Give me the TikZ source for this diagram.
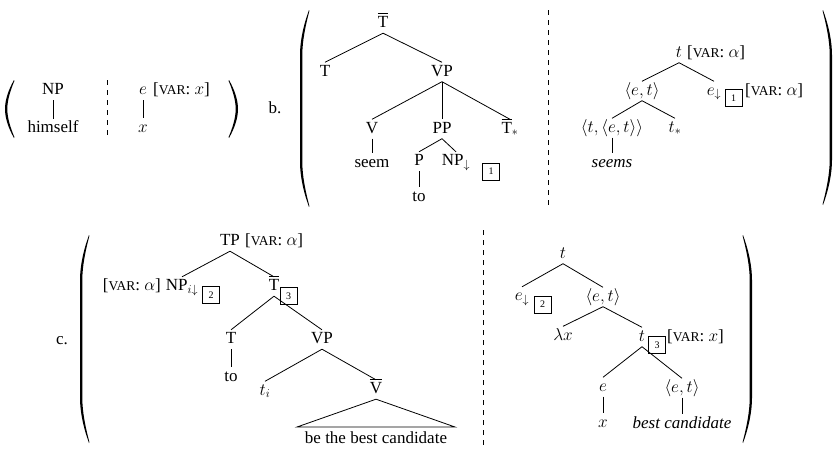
\documentclass[tikz,border=0pt]{standalone}
\usepackage{fontspec}
\setmainfont{Liberation Serif}
\newcommand{\vsc}{{\fontsize{13.5}{16}\selectfont VAR}}
\newcommand{\feat}[1]{[\vsc: #1]}
\newcommand{\ob}[1]{\leavevmode\vbox{\hrule height 0.7pt \kern 2.2pt \hbox{#1}}}
% filled parenthesis shape: #1 = height, #2 = length of curved ends
\newcommand{\myparen}[2]{%
  \fill (9,0) .. controls (3.2,0.35*#2) and (0,0.7*#2) .. (0,#2)
    -- (0,#1-#2) .. controls (0,#1-0.7*#2) and (3.2,#1-0.35*#2) .. (9,#1)
    -- (9.4,#1-0.9) .. controls (5.4,#1-0.35*#2) and (2.3,#1-0.7*#2) .. (2.3,#1-#2)
    -- (2.3,#2) .. controls (2.3,0.7*#2) and (5.4,0.35*#2) .. (9.4,0.9) -- cycle;}
\begin{document}
\begin{tikzpicture}[x=1pt,y=-1pt,
  every node/.style={font=\fontsize{17}{20}\selectfont},
  tn/.style={anchor=base, inner xsep=2pt, inner ysep=1.5pt, text height=12pt, text depth=4pt},
  annw/.style={anchor=base west, inner sep=0pt},
  anne/.style={anchor=base east, inner sep=0pt},
  bx/.style={draw, line width=0.6pt, minimum size=17pt, inner sep=0pt, font=\fontsize{10}{12}\selectfont},
  br/.style={line width=0.8pt},
  sep/.style={dash pattern=on 5pt off 5pt, line width=0.6pt}]
\useasboundingbox (0,0) rectangle (833,450);

% ---------- brackets ----------
\begin{scope}[shift={(5,80)}]\myparen{58}{29}\end{scope}
\begin{scope}[shift={(238,80)},xscale=-1]\myparen{58}{29}\end{scope}
\begin{scope}[shift={(300,10)}]\myparen{197}{45}\end{scope}
\begin{scope}[shift={(832,10)},xscale=-1]\myparen{195}{45}\end{scope}
\begin{scope}[shift={(80,235)}]\myparen{208}{45}\end{scope}
\begin{scope}[shift={(752,235)},xscale=-1]\myparen{208}{45}\end{scope}

% ---------- panel a ----------
\node[tn] (aNP) at (53,94.5) {NP};
\node[tn] (ahim) at (53,132.5) {himself};
\draw[br] (aNP.south) -- (ahim.north);
\draw[sep] (107,80) -- (107,137);
\node[tn] (ae) at (143,94.5) {$e$};
\node[annw] (aef) at (153,94.5) {\feat{$x$}};
\node[tn] (ax) at (143,132) {$x$};
\draw[br] (ae.south) -- (ax.north);

% ---------- panel b ----------
\node[anchor=base] (blab) at (275,113) {b.};
\node[tn] (bTb) at (383,27.5) {\ob{T}};
\node[tn] (bT) at (325,76) {T};
\node[tn] (bVP) at (442,76) {VP};
\node[tn] (bV) at (372,133) {V};
\node[tn] (bPP) at (442,133) {PP};
\node[tn] (bTs) at (510,133) {\ob{T}$_*$};
\node[tn] (bseem) at (372,167) {seem};
\node[tn] (bP) at (419,165.5) {P};
\node[tn] (bNP) at (456,165.5) {NP$_\downarrow$};
\node[bx] (bbox1) at (491,171.5) {1};
\node[tn] (bto) at (419,201) {to};
\draw[br] (bTb.south) -- (bT.north);
\draw[br] (bTb.south) -- (bVP.north);
\draw[br] (bVP.south) -- (bV.north);
\draw[br] (bVP.south) -- (bPP.north);
\draw[br] (bVP.south) -- (bTs.north);
\draw[br] (bV.south) -- (bseem.north);
\draw[br] (bPP.south) -- (bP.north);
\draw[br] (bPP.south) -- (bNP.north);
\draw[br] (bP.south) -- (bto.north);
\draw[sep] (548,10) -- (548,207);

\node[tn] (bt) at (679,57) {$t$};
\node[annw] (btf) at (687,57) {\feat{$\alpha$}};
\node[tn] (bet) at (642,95) {$\langle e,t\rangle$};
\node[tn] (be) at (714,95) {$e_\downarrow$};
\node[bx] (bbox1r) at (733.5,98) {1};
\node[annw] (bef) at (745,95) {\feat{$\alpha$}};
\node[tn] (btet) at (612,132) {$\langle t,\langle e,t\rangle\rangle$};
\node[tn] (bts) at (675,132) {$t_*$};
\node[tn] (bseems) at (612,167) {\textit{seems}};
\draw[br] (bt.south) -- (bet.north);
\draw[br] (bt.south) -- (be.north);
\draw[br] (bet.south) -- (btet.north);
\draw[br] (bet.south) -- (bts.north);
\draw[br] (btet.south) -- (bseems.north);

% ---------- panel c ----------
\node[anchor=base] (clab) at (62,344) {c.};
\node[tn] (cTP) at (230,245.5) {TP};
\node[annw] (cTPf) at (245,245.5) {\feat{$\alpha$}};
\node[tn] (cNP) at (182,290.5) {NP$_{i\downarrow}$};
\node[anne] (cNPf) at (161,290.5) {\feat{$\alpha$}};
\node[bx] (cbox2) at (211,295) {2};
\node[tn] (cTb) at (274,290.5) {\ob{T}};
\node[bx] (cbox3) at (288.5,296) {3};
\node[tn] (cT) at (231,343.5) {T};
\node[tn] (cVP) at (322,343.5) {VP};
\node[tn] (cto) at (231,381) {to};
\node[tn] (cti) at (265,395) {$t_i$};
\node[tn] (cVb) at (376,393.5) {\ob{V}};
\coordinate (cbl) at (297,427);
\coordinate (cbr) at (455,427);
\node[tn] (cbe) at (376,443) {be the best candidate};
\draw[br] (cTP.south) -- (cNP.north);
\draw[br] (cTP.south) -- (cTb.north);
\draw[br] (cTb.south) -- (cT.north);
\draw[br] (cTb.south) -- (cVP.north);
\draw[br] (cT.south) -- (cto.north);
\draw[br] (cVP.south) -- (cti.north);
\draw[br] (cVP.south) -- (cVb.north);
\draw[br] (cVb.south) -- (cbl) -- (cbr) -- cycle;
\draw[sep] (483,230) -- (483,447);

\node[tn] (ct) at (563,258) {$t$};
\node[tn] (ce) at (522,300.5) {$e_\downarrow$};
\node[bx] (cbox2r) at (542.5,304.5) {2};
\node[tn] (cet) at (603,301) {$\langle e,t\rangle$};
\node[tn] (clx) at (563,340) {$\lambda x$};
\node[tn] (ct3) at (642,341) {$t$};
\node[bx] (cbox3r) at (657,345) {3};
\node[annw] (ct3f) at (667,341) {\feat{$x$}};
\node[tn] (ce2) at (603,391) {$e$};
\node[tn] (cet2) at (682,392) {$\langle e,t\rangle$};
\node[tn] (cx) at (603,427) {$x$};
\node[tn] (cbc) at (682,428) {\textit{best candidate}};
\draw[br] (ct.south) -- (ce.north);
\draw[br] (ct.south) -- (cet.north);
\draw[br] (cet.south) -- (clx.north);
\draw[br] (cet.south) -- (ct3.north);
\draw[br] (ct3.south) -- (ce2.north);
\draw[br] (ct3.south) -- (cet2.north);
\draw[br] (ce2.south) -- (cx.north);
\draw[br] (cet2.south) -- (cbc.north);
\end{tikzpicture}
\end{document}
